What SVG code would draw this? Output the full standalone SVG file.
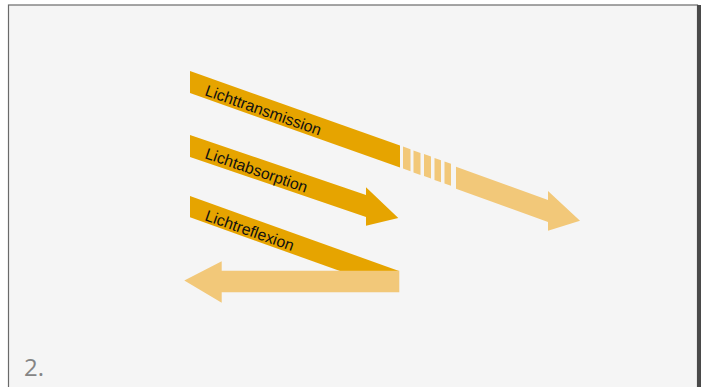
<svg xmlns="http://www.w3.org/2000/svg" width="701" height="387" viewBox="0 0 701 387">
<style>
.dark{fill:#E6A400}
.light{fill:#F2C879}
.lbl{font-family:"Liberation Sans",Arial,sans-serif;font-size:15.8px;fill:#111}
</style>
<rect x="0" y="0" width="701" height="387" fill="#ffffff"/>
<rect x="8.5" y="5" width="689" height="390" fill="#f5f5f5" stroke="#6a6a6a" stroke-width="1.2"/>
<rect x="697" y="5" width="4" height="382" fill="#4a4a4a"/>

<g id="transmission">
  <polygon class="dark" points="190,71 400,145.5 400,167.5 190,93"/>
  <polygon class="light" points="403,146.6 410.5,149.3 410.5,171.3 403,168.6"/>
  <polygon class="light" points="413.5,150.4 420.5,152.9 420.5,174.9 413.5,172.4"/>
  <polygon class="light" points="424,154.1 431,156.6 431,178.6 424,176.1"/>
  <polygon class="light" points="434.5,157.9 441,160.2 441,182.2 434.5,179.9"/>
  <polygon class="light" points="444.5,161.4 451,163.8 451,185.8 444.5,183.4"/>
  <polygon class="light" points="456,166.8 548,199.9 548,191 580,220.7 548,230.7 548,221.9 456,188.8"/>
  <text class="lbl" transform="translate(204,95) rotate(19.5)">Lichttransmission</text>
</g>

<g id="absorption">
  <polygon class="dark" points="190,135 366,195 366,187.3 398.3,218 366,225.7 366,217 190,157"/>
  <text class="lbl" transform="translate(204,158) rotate(19)">Lichtabsorption</text>
</g>

<g id="reflexion">
  <polygon class="dark" points="190,196 399,271 340,271 190,217.3"/>
  <polygon class="light" points="399.3,270.7 399.3,292.3 221.7,292.3 221.7,302.7 184.3,280.5 221.7,261.3 221.7,270.7"/>
  <text class="lbl" transform="translate(204,220) rotate(19.5)">Lichtreflexion</text>
</g>

<text x="24" y="376" font-family="'Open Sans','Liberation Sans',sans-serif" font-size="24" fill="#858585">2.</text>
</svg>
